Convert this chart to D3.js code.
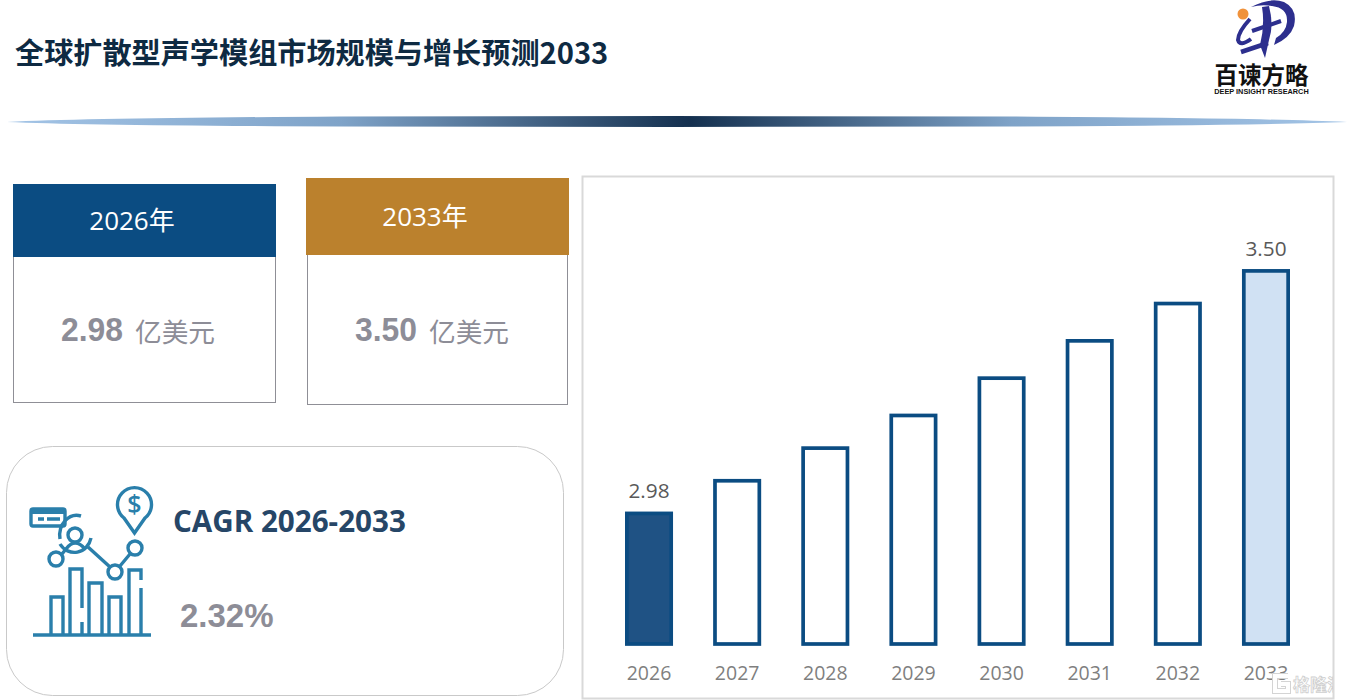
<!DOCTYPE html>
<html>
<head>
<meta charset="utf-8">
<script src="https://cdn.jsdelivr.net/npm/d3@7"></script>
<style>
html,body{margin:0;padding:0;background:#fff;overflow:hidden}
svg{display:block}
text{font-family:"Open Sans","Noto Sans CJK SC",sans-serif}
</style>
</head>
<body>
<div id="chart"></div>
<script>
const years = ["2026","2027","2028","2029","2030","2031","2032","2033"]
const sizes = [2.98,3.05,3.12,3.19,3.27,3.35,3.43,3.50]
const labelled = ["2026","2033"]
const barFills = {"2026":"#1f5284","2033":"#d0e1f3"}

const titleText = "全球扩散型声学模组市场规模与增长预测2033"
const unitText = "亿美元"
const cagrTitle = "CAGR 2026-2033"
const cagrValue = "2.32%"

const blue = "#0b4c82"
const gold = "#bb812d"
const grey = "#8d8d97"
const iconBlue = "#2a7fab"
const logoBlue = "#2d2f8e"

const svg = d3.select("#chart").append("svg").attr("width",1347).attr("height",700)
const defs = svg.append("defs")

// title + divider
svg.append("text").text(titleText)
  .attr("x",15).attr("y",64)
  .style("font-family",'"Noto Sans CJK SC",sans-serif')
  .style("font-size","29.15px").style("font-weight",700).attr("fill","#0e2a42")

const grad = defs.append("linearGradient").attr("id","rule")
grad.selectAll("stop").data([[0,"#a3c4e6"],[0.25,"#7fa3c8"],[0.51,"#14304f"],[0.75,"#7fa3c8"],[1,"#a3c4e6"]])
  .enter().append("stop").attr("offset",d=>d[0]).attr("stop-color",d=>d[1])
svg.append("path").attr("d","M7,122 Q90,118 340,116.5 L673,116 L1010,116.5 Q1260,118 1347,122 Q1260,125.5 1010,126.5 L673,127 L340,126.5 Q90,125.5 7,122Z").attr("fill","url(#rule)")

// logo
const logo = svg.append("g")
logo.append("circle").attr("cx",1243).attr("cy",14).attr("r",5.5).attr("fill","#f0923b")
logo.append("path").attr("fill",logoBlue)
  .attr("d","M1251,7 Q1270,-3 1284,2 Q1298,9 1294,26 Q1290,38 1274,45 L1276,38 Q1286,32 1287,22 Q1288,8 1272,6 Q1262,4 1251,7Z")
logo.append("path").attr("fill",logoBlue)
  .attr("d","M1269,6 Q1274,25 1269,40 L1265,58 L1260,45 Q1265,25 1262,7Z")
logo.append("path").attr("fill","none").attr("stroke",logoBlue).attr("stroke-width",4)
  .attr("d","M1252,31 L1281,21 M1250,19 Q1238,32 1238,40 Q1240,47 1251,39")
logo.append("path").attr("fill","none").attr("stroke",logoBlue).attr("stroke-width",4.5)
  .attr("d","M1241,52 L1268,43")
logo.append("text").text("百谏方略").attr("x",1261.5).attr("y",84).attr("text-anchor","middle")
  .style("font-family",'"Noto Sans CJK SC",sans-serif').style("font-size","23.5px").style("font-weight",700).attr("fill","#111")
logo.append("text").text("DEEP INSIGHT RESEARCH").attr("x",1261.5).attr("y",94).attr("text-anchor","middle")
  .style("font-family",'"Liberation Sans",sans-serif').style("font-size","7.3px").style("font-weight",700).attr("fill","#111")

// the two summary cards
const cards = [
  {year:"2026年",value:"2.98",colour:blue,hx:13,hy:184,hw:263,hh:73,bx:13.5,bw:262,bb:402.5,lx:132,vx:61,ux:135,ly:230},
  {year:"2033年",value:"3.50",colour:gold,hx:306,hy:178,hw:263,hh:77,bx:307.5,bw:260,bb:404.5,lx:425,vx:355,ux:429,ly:226}
]
const card = svg.selectAll("g.card").data(cards).enter().append("g").classed("card",true)
card.append("rect").attr("x",d=>d.bx).attr("y",d=>d.hy+d.hh-1).attr("width",d=>d.bw).attr("height",d=>d.bb-d.hy-d.hh+1)
  .attr("fill","#fff").attr("stroke","#8f8f96").attr("stroke-width",1)
card.append("rect").attr("x",d=>d.hx).attr("y",d=>d.hy).attr("width",d=>d.hw).attr("height",d=>d.hh).attr("fill",d=>d.colour)
card.append("text").text(d=>d.year).attr("x",d=>d.lx).attr("y",d=>d.ly)
  .attr("text-anchor","middle").attr("fill","#fff").style("font-size","26px")
card.append("text").text(d=>d.value).attr("x",d=>d.vx).attr("y",341)
  .attr("textLength",62).attr("lengthAdjust","spacingAndGlyphs")
  .style("font-family",'"Liberation Sans",sans-serif').style("font-size","33.5px").style("font-weight",700).attr("fill",grey)
card.append("text").text(unitText).attr("x",d=>d.ux).attr("y",342)
  .style("font-family",'"Noto Sans CJK SC",sans-serif').style("font-size","26.7px").attr("fill",grey)

// CAGR panel
svg.append("rect").attr("x",6.5).attr("y",446.5).attr("width",557).attr("height",249).attr("rx",46)
  .attr("fill","#fff").attr("stroke","#c9c9c9").attr("stroke-width",1)
svg.append("text").text(cagrTitle).attr("x",173).attr("y",532)
  .style("font-size","29.6px").style("font-weight",700).attr("fill","#264667")
svg.append("text").text(cagrValue).attr("x",180).attr("y",627)
  .style("font-family",'"Liberation Sans",sans-serif').style("font-size","33px").style("font-weight",700).attr("fill",grey)

// icon
const icon = svg.append("g").attr("fill","none").attr("stroke",iconBlue).attr("stroke-width",3.4)
icon.append("path").attr("stroke-width",3.5).attr("d","M33,635 L151,635")
icon.append("path").attr("d","M51,634 V597 H63 V634 M70,634 V569 H82 V608 M82,622 V634 M89,634 V583 H102 V634 M109,634 V597 H121 V634 M129,634 V570 H141 V580 M141,588 V634")
icon.append("rect").attr("x",31).attr("y",509).attr("width",34).attr("height",17).attr("rx",2)
icon.append("path").attr("d","M32,512 H64").attr("stroke-width",4)
icon.append("path").attr("d","M38,519 H44 M47,519 H60")
icon.append("circle").attr("cx",75).attr("cy",535).attr("r",7)
icon.append("path").attr("d","M66,549 Q75,537 85,549")
icon.append("path").attr("d","M60,539 A17,20 0 0 1 81,516 M91,538 A17,18 0 0 1 60,544")
icon.append("circle").attr("cx",56).attr("cy",559).attr("r",7)
icon.append("circle").attr("cx",115).attr("cy",572).attr("r",7)
icon.append("circle").attr("cx",135).attr("cy",548).attr("r",7)
icon.append("path").attr("d","M62,554 L66,549 M88,547 L110,567 M120,566 L130,554")
icon.append("path").attr("d","M134.5,533 L124,518 A17,17 0 1 1 145,518Z")
icon.append("text").text("$").attr("x",134.5).attr("y",513).attr("text-anchor","middle").attr("stroke","none").attr("fill",iconBlue)
  .style("font-size","25px").style("font-weight",600)

// chart frame
svg.append("rect").attr("x",582.5).attr("y",176.5).attr("width",751).attr("height",522)
  .attr("fill","#fff").attr("stroke","#d9d9d9").attr("stroke-width",2)

// bars
const x = d3.scaleBand().domain(years).range([604.95,1310.05])
const y = d3.scaleLinear().domain([2.7,3.5]).range([644,270.9])
const barWidth = x.bandwidth()*0.503
const rows = d3.zip(years,sizes)

svg.selectAll("rect.bar").data(rows).enter().append("rect").classed("bar",true)
  .attr("x",d=>x(d[0])+x.bandwidth()/2-barWidth/2)
  .attr("y",d=>y(d[1]))
  .attr("width",barWidth)
  .attr("height",d=>y.range()[0]-y(d[1]))
  .attr("fill",d=>barFills[d[0]]||"#fff")
  .attr("stroke",blue).attr("stroke-width",3.7)

svg.selectAll("text.val").data(rows.filter(d=>labelled.includes(d[0]))).enter().append("text").classed("val",true)
  .text(d=>d[1].toFixed(2))
  .attr("x",d=>x(d[0])+x.bandwidth()/2).attr("y",d=>y(d[1])-15)
  .attr("text-anchor","middle").attr("fill","#595959").style("font-size","20.8px")

const axis = svg.append("g").attr("transform","translate(0,662)")
  .call(d3.axisBottom(x).tickSize(0).tickPadding(0))
axis.select(".domain").remove()
axis.selectAll("text").attr("dy","18px").attr("fill","#7f7f7f").style("font-size","19.5px").style("font-family",'"Open Sans",sans-serif')

// watermark
defs.append("clipPath").attr("id","wm").append("rect").attr("x",1260).attr("y",660).attr("width",73).attr("height",36)
const wm = svg.append("g").attr("clip-path","url(#wm)")
wm.append("path").attr("d","M1288,676 H1275 V691 H1288 V684 H1281").attr("fill","none").attr("stroke","#d4d4d4").attr("stroke-width",6)
wm.append("path").attr("d","M1288,676 H1275 V691 H1288 V684 H1281").attr("fill","none").attr("stroke","#fff").attr("stroke-width",4)
wm.append("text").text("格隆汇").attr("x",1293).attr("y",691)
  .style("font-family",'"Noto Sans CJK SC",sans-serif').style("font-size","17px").style("font-weight",700)
  .attr("fill","#fff").attr("stroke","#cfcfcf").attr("stroke-width",0.8)
</script>
</body>
</html>
